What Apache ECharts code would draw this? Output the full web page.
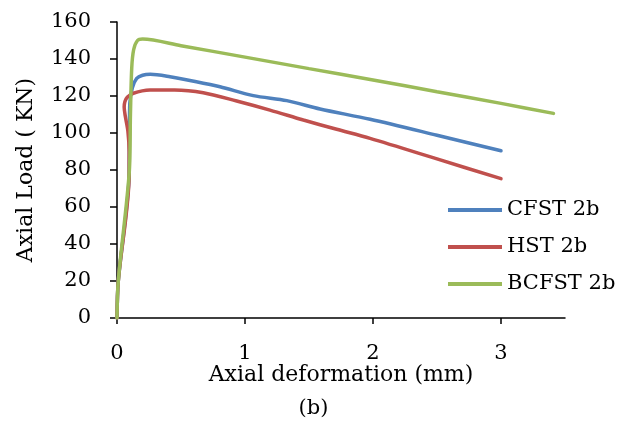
<!DOCTYPE html>
<html>
<head>
<meta charset="utf-8">
<script src="https://cdn.jsdelivr.net/npm/echarts@6/dist/echarts.min.js"></script>
<style>html,body{margin:0;padding:0;background:#fff;}#c{width:627px;height:423px;}</style>
</head>
<body>
<div id="c"></div>
<script>
var seriesNames = ['CFST 2b', 'HST 2b', 'BCFST 2b'];
var xTicks = [0, 1, 2, 3];
var cfst = [[0,0],[0.01,20],[0.095,78],[0.097,100],[0.1,116],[0.12,124.5],[0.154,129.5],[0.2,131.2],[0.26,131.7],[0.414,130.4],[0.6,128],[0.805,125],[1.065,120.2],[1.326,117.5],[1.586,113],[1.977,107.4],[2.5,98.8],[3,90.4]];
var hst = [[0,0],[0.01,20],[0.095,78],[0.095,90],[0.085,101],[0.065,109],[0.056,114],[0.062,117],[0.08,119.3],[0.128,121.5],[0.258,123.2],[0.45,123.3],[0.674,121.8],[0.935,117.3],[1.195,112.4],[1.456,107],[1.716,102],[1.977,97.1],[2.5,86],[3,75.3]];
var bcfst = [[0,0],[0.01,20],[0.095,78],[0.105,110],[0.115,135],[0.13,145],[0.16,150],[0.2,150.8],[0.5,147.2],[1,141],[1.5,134.8],[2,128.7],[2.5,122.3],[3,116],[3.41,110.6]];
var colors = ['#4F81BD', '#C0504D', '#9BBB59'];
var font = 'DejaVu Serif';

var chart = echarts.init(document.getElementById('c'), null, {renderer: 'canvas'});
var mk = function (name, data, color) {
  return {
    name: name, type: 'line', data: data, smooth: 0.3, symbol: 'none', showSymbol: false,
    lineStyle: {color: color, width: 3.5, cap: 'round'}, itemStyle: {color: color}
  };
};
chart.setOption({
  animation: false,
  backgroundColor: '#fff',
  title: {text: '(b)', left: 'center', top: 393, textStyle: {fontFamily: font, fontSize: 21, fontWeight: 'normal', color: '#000'}},
  grid: {left: 117, right: 62, top: 22, bottom: 105, containLabel: false, outerBoundsMode: 'none'},
  legend: {
    orient: 'vertical', left: 443, top: 193, itemWidth: 54, itemHeight: 4, itemGap: 13, icon: 'rect',
    textStyle: {fontFamily: font, fontSize: 21, color: '#000', lineHeight: 24},
    data: seriesNames
  },
  xAxis: {
    type: 'value', min: 0, max: 3.5, interval: 1,
    name: 'Axial deformation (mm)', nameLocation: 'middle', nameGap: 46, nameMoveOverlap: false,
    nameTextStyle: {fontFamily: font, fontSize: 22, color: '#000'},
    axisLine: {show: true, onZero: false, lineStyle: {color: '#000', width: 1.5}},
    axisTick: {show: true, length: 6, lineStyle: {color: '#000', width: 1.5}, customValues: xTicks},
    axisLabel: {fontFamily: font, fontSize: 21, color: '#000', margin: 25, customValues: xTicks},
    splitLine: {show: false}
  },
  yAxis: {
    type: 'value', min: 0, max: 160, interval: 20,
    name: 'Axial Load ( KN)', nameLocation: 'middle', nameGap: 80, nameMoveOverlap: false,
    nameTextStyle: {fontFamily: font, fontSize: 22, color: '#000'},
    axisLine: {show: true, onZero: false, lineStyle: {color: '#000', width: 1.5}},
    axisTick: {show: true, length: 7, lineStyle: {color: '#000', width: 1.5}},
    axisLabel: {fontFamily: font, fontSize: 21, color: '#000', margin: 26},
    splitLine: {show: false}
  },
  series: [mk(seriesNames[0], cfst, colors[0]), mk(seriesNames[1], hst, colors[1]), mk(seriesNames[2], bcfst, colors[2])]
});
</script>
</body>
</html>
